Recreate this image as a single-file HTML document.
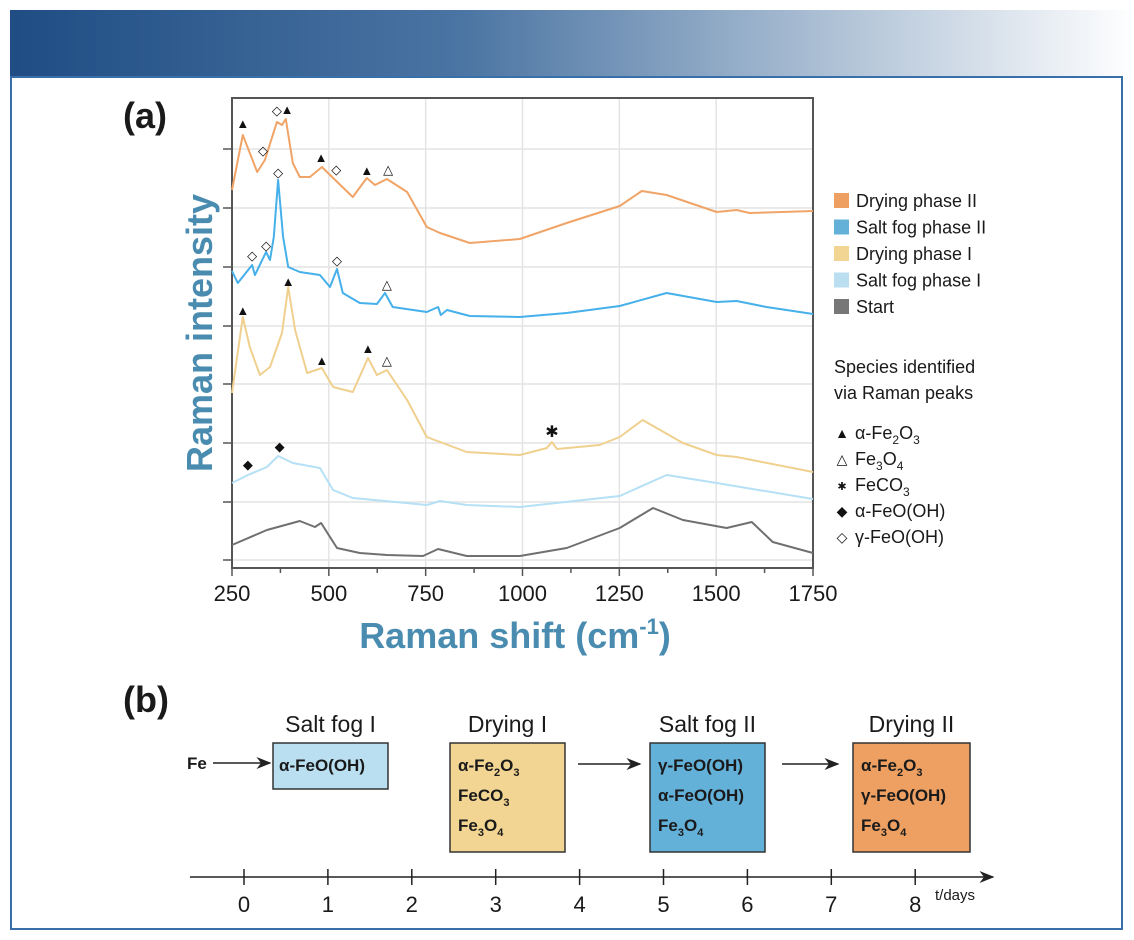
<!DOCTYPE html>
<html><head><meta charset="utf-8"><style>
body{margin:0;background:#fff;font-family:"Liberation Sans","DejaVu Sans",sans-serif;}
#root{position:relative;width:1134px;height:940px;overflow:hidden;background:#fff;}
</style></head><body>
<div id="root">
<svg id="svg" width="1134" height="940" xmlns="http://www.w3.org/2000/svg">
<defs><linearGradient id="bg" x1="0" x2="1" y1="0" y2="0"><stop offset="0" stop-color="#1f4d84"/><stop offset="0.4" stop-color="#4a74a2"/><stop offset="1" stop-color="#ffffff"/></linearGradient>
<marker id="ah" markerWidth="10" markerHeight="8" refX="9" refY="4" orient="auto"><path d="M0,0 L10,4 L0,8 L3,4z" fill="#222"/></marker></defs>
<rect x="10" y="10" width="1124" height="67" fill="url(#bg)"/>
<rect x="11" y="77" width="1111" height="852" fill="none" stroke="#3a6ea8" stroke-width="2"/>
<text x="123" y="128" font-size="36" font-weight="bold" fill="#1a1a1a">(a)</text>
<text x="123" y="712" font-size="36" font-weight="bold" fill="#1a1a1a">(b)</text>
<g id="chart"></g>
<g id="timeline"></g>
</svg>
</div>
<script>
const NS="http://www.w3.org/2000/svg";
// ---- chart data ----
const seriesNames=["Drying phase II","Salt fog phase II","Drying phase I","Salt fog phase I","Start"];
const seriesColors=["#f0a467","#45b0ea","#f0d08e","#b5e0f5","#707070"];
const xTicks=[250,500,750,1000,1250,1500,1750];
const shiftDrying2=[250,278,315,335,366,379,389,407,425,451,482,511,562,598,619,650,702,753,787,864,993,1114,1251,1308,1372,1501,1553,1586,1750];
const intDrying2=[378,433,396,408,446,443,449,405,391,391,401,390,371,390,383,389,376,341,335,325,329,345,362,377,373,356,358,355,357];
const shiftSalt2=[250,265,302,309,338,348,358,369,382,395,425,477,503,521,536,580,624,645,665,753,782,789,805,864,993,1114,1251,1372,1501,1553,1630,1750];
const intSalt2=[297,285,303,293,316,308,331,388,331,301,296,293,281,299,275,265,264,275,261,256,261,253,258,252,251,255,262,275,266,267,261,254];
const shiftDrying1=[250,278,296,322,348,379,395,413,444,482,511,562,601,624,650,702,753,856,993,1063,1076,1089,1199,1251,1310,1414,1501,1553,1750];
const intDrying1=[175,251,221,193,201,235,281,238,195,200,181,176,210,193,198,168,131,116,113,120,126,119,123,131,148,125,113,111,96];
const shiftSalt1=[250,291,340,369,407,477,511,562,753,787,856,993,1251,1372,1501,1750];
const intSalt1=[85,93,101,112,105,100,78,70,63,67,63,61,72,93,85,69];
const shiftStart=[250,340,425,464,480,521,580,650,743,782,856,993,1114,1251,1337,1414,1527,1592,1646,1750];
const intStart=[23,38,47,41,45,20,15,13,12,19,12,12,20,40,60,48,40,46,26,15];
const markerShift=[278,330,366,392,480,519,598,653,369,302,338,521,650,278,395,482,601,650,1076,291,373];
const markerInt=[445,418,458,459,411,399,398,399,396,313,323,308,284,258,287,208,220,208,136,104,122];
const markerSym=["▲","◇","◇","▲","▲","◇","▲","△","◇","◇","◇","◇","△","▲","▲","▲","▲","△","✱","◆","◆"];
const L=232,R=813,T=98,B=568;
const xs=v=>L+(v-250)/1500*(R-L);
const ys=v=>B-v/470*(B-T);
function el(tag,attrs,parent){const e=document.createElementNS(NS,tag);for(const k in attrs)e.setAttribute(k,attrs[k]);parent.appendChild(e);return e;}
const g=document.getElementById('chart');
// grid
const gridY=[149,208,267,326,384,443,502,560];
gridY.forEach(y=>{const l=el('line',{x1:L,x2:R,y1:y,y2:y,stroke:'#e4e4e4','stroke-width':1.5},g);


const t=el('line',{x1:L-9,x2:L,y1:y,y2:y,stroke:'#555','stroke-width':1.5},g);

});
xTicks.forEach((v,i)=>{const x=xs(v);
if(i>0&&i<xTicks.length-1){const l=el('line',{x1:x,x2:x,y1:T,y2:B,stroke:'#e4e4e4','stroke-width':1.5},g);

}
const t=el('line',{x1:x,x2:x,y1:B,y2:B+8,stroke:'#555','stroke-width':1.5},g);


const mt=el('line',{x1:xs(v+125),x2:xs(v+125),y1:B,y2:B+5,stroke:'#555','stroke-width':1.5},g);
if(v<1750){}else{mt.remove();}

const lb=el('text',{x:x,y:B+33,'font-size':22,'text-anchor':'middle',fill:'#1a1a1a'},g);lb.textContent=v;

});
const fr=el('rect',{x:L,y:T,width:R-L,height:B-T,fill:'none',stroke:'#555','stroke-width':2},g);


const sx=[shiftDrying2,shiftSalt2,shiftDrying1,shiftSalt1,shiftStart];
const sy=[intDrying2,intSalt2,intDrying1,intSalt1,intStart];
const keys=['drying-phase-2','salt-fog-phase-2','drying-phase-1','salt-fog-phase-1','start'];
for(let s=4;s>=0;s--){let d='';sx[s].forEach((v,i)=>{d+=(i?'L':'M')+xs(v).toFixed(1)+','+ys(sy[s][i]).toFixed(1);});
const p=el('path',{d:d,fill:'none',stroke:seriesColors[s],'stroke-width':2,'stroke-linejoin':'round'},g);

}
markerSym.forEach((m,i)=>{const t=el('text',{x:xs(markerShift[i]),y:ys(markerInt[i])+5,'font-size':m==='✱'?16:13,'text-anchor':'middle',fill:'#111'},g);t.textContent=m;

});
const yt=el('text',{x:0,y:0,'font-size':36,'font-weight':'bold',fill:'#4a8cb0','text-anchor':'middle',transform:'translate(212,333) rotate(-90)'},g);yt.textContent='Raman intensity';


const xt=el('text',{x:515,y:648,'font-size':36,'font-weight':'bold',fill:'#4a8cb0','text-anchor':'middle'},g);
xt.innerHTML='Raman shift (cm<tspan dy="-14" font-size="22">-1</tspan><tspan dy="14">)</tspan>';


const legC=["#eda062","#63b0d8","#f2d592","#b9dff0","#777777"];
seriesNames.forEach((n,i)=>{const y=200+i*26.5;const r=el('rect',{x:834,y:y-7,width:15,height:15,fill:legC[i]},g);


const t=el('text',{x:856,y:y+7,'font-size':18,fill:'#1a1a1a'},g);t.textContent=n;

});
const sp=el('text',{x:834,y:373,'font-size':18,fill:'#1a1a1a'},g);sp.innerHTML='Species identified<tspan x="834" dy="26">via Raman peaks</tspan>';


const spSym=["▲","△","✱","◆","◇"];
const spLab=['α-Fe<tspan font-size="12" dy="5">2</tspan><tspan dy="-5">O</tspan><tspan font-size="12" dy="5">3</tspan>','Fe<tspan font-size="12" dy="5">3</tspan><tspan dy="-5">O</tspan><tspan font-size="12" dy="5">4</tspan>','FeCO<tspan font-size="12" dy="5">3</tspan>','α-FeO(OH)','γ-FeO(OH)'];
spSym.forEach((s,i)=>{const y=438+i*26;const m=el('text',{x:842,y:y,'font-size':s==='✱'?11:14,'text-anchor':'middle',fill:'#111'},g);m.textContent=s;


const t=el('text',{x:855,y:y+1,'font-size':18,fill:'#1a1a1a'},g);t.innerHTML=spLab[i];

});
// ---- timeline ----
const days=[0,1,2,3,4,5,6,7,8];
const tg=document.getElementById('timeline');
const dx=d=>244+d*83.9;
const ax=el('line',{x1:190,x2:993,y1:877,y2:877,stroke:'#222','stroke-width':1.5,'marker-end':'url(#ah)'},tg);


days.forEach(d=>{const t=el('line',{x1:dx(d),x2:dx(d),y1:869,y2:885,stroke:'#222','stroke-width':1.5},tg);


const l=el('text',{x:dx(d),y:912,'font-size':22,'text-anchor':'middle',fill:'#1a1a1a'},tg);l.textContent=d;

});
const td=el('text',{x:935,y:900,'font-size':15,fill:'#1a1a1a'},tg);td.textContent='t/days';


const boxes=[
 {t:'Salt fog I',x:273,w:115,h:46,c:'#b9dff0',k:'salt-fog-1',lines:['α-FeO(OH)']},
 {t:'Drying I',x:450,w:115,h:109,c:'#f2d592',k:'drying-1',lines:['α-Fe<tspan font-size="11" dy="5">2</tspan><tspan dy="-5">O</tspan><tspan font-size="11" dy="5">3</tspan>','FeCO<tspan font-size="11" dy="5">3</tspan>','Fe<tspan font-size="11" dy="5">3</tspan><tspan dy="-5">O</tspan><tspan font-size="11" dy="5">4</tspan>']},
 {t:'Salt fog II',x:650,w:115,h:109,c:'#63b0d8',k:'salt-fog-2',lines:['γ-FeO(OH)','α-FeO(OH)','Fe<tspan font-size="11" dy="5">3</tspan><tspan dy="-5">O</tspan><tspan font-size="11" dy="5">4</tspan>']},
 {t:'Drying II',x:853,w:117,h:109,c:'#eda062',k:'drying-2',lines:['α-Fe<tspan font-size="11" dy="5">2</tspan><tspan dy="-5">O</tspan><tspan font-size="11" dy="5">3</tspan>','γ-FeO(OH)','Fe<tspan font-size="11" dy="5">3</tspan><tspan dy="-5">O</tspan><tspan font-size="11" dy="5">4</tspan>']}];
boxes.forEach(b=>{const r=el('rect',{x:b.x,y:743,width:b.w,height:b.h,fill:b.c,stroke:'#333','stroke-width':1.5},tg);


const tt=el('text',{x:b.x+b.w/2,y:732,'font-size':23,'text-anchor':'middle',fill:'#1a1a1a'},tg);tt.textContent=b.t;


b.lines.forEach((ln,i)=>{const t=el('text',{x:b.x+(b.lines.length>1?8:6),y:771+i*30,'font-size':17,'font-weight':'bold',fill:'#1a1a1a'},tg);t.innerHTML=ln;

});});
const fe=el('text',{x:187,y:769,'font-size':17,'font-weight':'bold',fill:'#1a1a1a'},tg);fe.textContent='Fe';


[[213,270,763],[578,640,764],[782,838,764]].forEach(a=>{const l=el('line',{x1:a[0],x2:a[1],y1:a[2],y2:a[2],stroke:'#222','stroke-width':1.5,'marker-end':'url(#ah)'},tg);

});
</script>
</body></html>
